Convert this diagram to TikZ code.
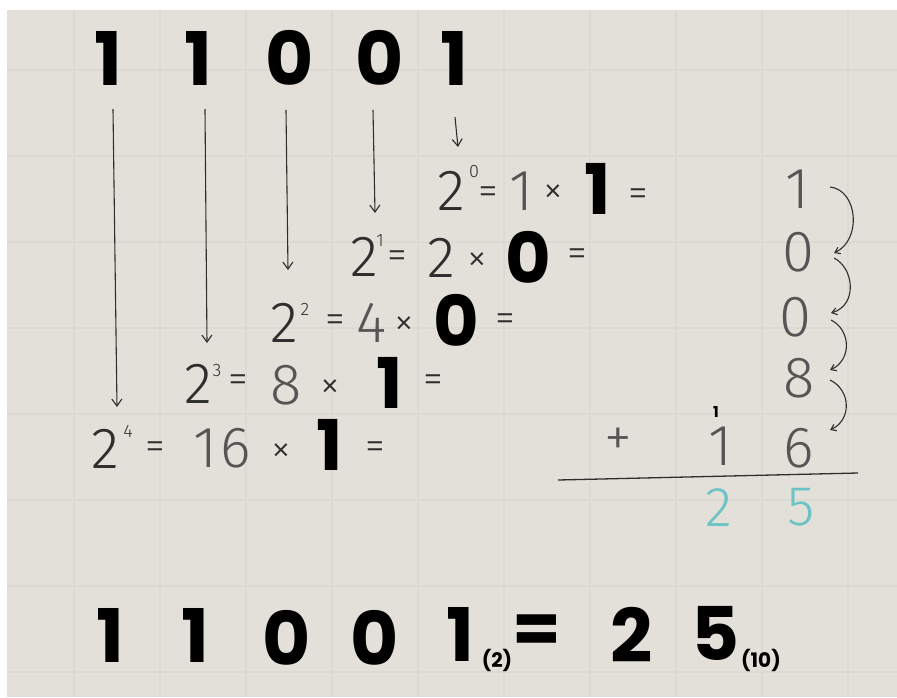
\documentclass[tikz,border=0pt]{standalone}
\usepackage{fontspec}
\usetikzlibrary{arrows.meta}
\newfontfamily\thinf{Fira Sans Light}
\newfontfamily\boldf{Poppins}
\definecolor{bg}{HTML}{E3E0D9}
\definecolor{gridc}{HTML}{DCD9D2}
\definecolor{ink}{HTML}{2E2E2E}
\definecolor{pencil}{HTML}{555555}
\definecolor{tealc}{HTML}{6CC3C6}
\tikzset{
  big/.style={font=\boldf\bfseries\fontsize{74}{74}\selectfont, inner sep=0pt, text=black},
  mid/.style={font=\boldf\bfseries\fontsize{70}{70}\selectfont, inner sep=0pt, text=black},
  bigeq/.style={font=\boldf\bfseries\fontsize{70}{70}\selectfont, inner sep=0pt, text=black},
  subs/.style={font=\boldf\bfseries\fontsize{20}{20}\selectfont, inner sep=0pt, text=black},
  thin/.style={font=\thinf\fontsize{58}{58}\selectfont, inner sep=0pt, text=ink},
  thingrey/.style={font=\thinf\fontsize{58}{58}\selectfont, inner sep=0pt, text=pencil},
  sym/.style={font=\thinf\fontsize{40}{40}\selectfont, inner sep=0pt, text=ink},
  supr/.style={font=\thinf\fontsize{18}{18}\selectfont, inner sep=0pt, text=ink},
  res/.style={font=\thinf\fontsize{58}{58}\selectfont, inner sep=0pt, text=pencil},
  tl/.style={font=\thinf\fontsize{56}{56}\selectfont, inner sep=0pt, text=tealc},
  arr/.style={draw=ink, line width=1.1pt, -{Straight Barb[length=7pt,width=10pt]}},
  carr/.style={draw=ink, line width=1.1pt, -{Straight Barb[length=5pt,width=7pt]}},
}
\begin{document}
\begin{tikzpicture}[x=1pt,y=-1pt]
\useasboundingbox (0,0) rectangle (897,697);
\fill[white] (0,0) rectangle (897,697);
\fill[bg] (7,10) rectangle (897,697);
\foreach \gx in {74,160,246,332,418,504,590,676,762,848}
  \draw[gridc, line width=1.2pt] (\gx,10) -- (\gx,697);
\foreach \gy in {70,156,242,328,414,500,586,672}
  \draw[gridc, line width=1.2pt] (7,\gy) -- (897,\gy);

% top binary number
\node[big] (d1) at (108,58) {1};
\node[big] (d2) at (198,58) {1};
\node[big] (d3) at (290,58) {0};
\node[big] (d4) at (380,58) {0};
\node[big] (d5) at (454,58) {1};

% row 0
\node[thin] (two0) at (451,191) {2};
\node[supr] (sup0) at (474,172) {0};
\node[sym] (eqa0) at (488,196) {=};
\node[thingrey] (m0) at (521,191) {1};
\node[sym] (x0) at (553,194) {×};
\node[mid] (b0) at (598,189) {1};
\node[sym] (eqb0) at (638,198) {=};
% row 1
\node[thin] (two1) at (364,257) {2};
\node[supr] (sup1) at (380,241) {1};
\node[sym] (eqa1) at (397,260) {=};
\node[thin] (m1) at (441,258) {2};
\node[sym] (x1) at (477,262) {×};
\node[mid] (b1) at (528,257) {0};
\node[sym] (eqb1) at (577,258) {=};
% row 2
\node[thin] (two2) at (284,323) {2};
\node[supr] (sup2) at (305,309) {2};
\node[sym] (eqa2) at (335,324) {=};
\node[thingrey] (m2) at (372,323) {4};
\node[sym] (x2) at (404,326) {×};
\node[mid] (b2) at (456,320) {0};
\node[sym] (eqb2) at (505,323) {=};
% row 3
\node[thin] (two3) at (198,384) {2};
\node[supr] (sup3) at (217,371) {3};
\node[sym] (eqa3) at (238,384) {=};
\node[thingrey] (m3) at (286,385) {8};
\node[sym] (x3) at (330,389) {×};
\node[mid] (b3) at (390,383) {1};
\node[sym] (eqb3) at (433,384) {=};
% row 4
\node[thin] (two4) at (105,449) {2};
\node[supr] (sup4) at (128,431) {4};
\node[sym] (eqa4) at (155,451) {=};
\node[thingrey] (m4) at (222,448) {1\kern3pt 6};
\node[sym] (x4) at (281,453) {×};
\node[mid] (b4) at (330,445) {1};
\node[sym] (eqb4) at (375,451) {=};

% vertical arrows
\coordinate (t1) at (117,407);
\coordinate (t2) at (207,343);
\coordinate (t3) at (288,270);
\coordinate (t4) at (375,213);
\coordinate (t5) at (458,147);
\draw[arr] ([xshift=5pt,yshift=-24pt]d1.south) -- (t1);
\draw[arr] ([xshift=7pt,yshift=-24pt]d2.south) -- (t2);
\draw[arr] ([xshift=-4pt,yshift=-24pt]d3.south) -- (t3);
\draw[arr] ([xshift=-7pt,yshift=-24pt]d4.south) -- (t4);
\draw[arr] ([xshift=1pt,yshift=-32pt]d5.south) -- (t5);

% right column
\node[res] (r0) at (797,189) {1};
\node[res] (r1) at (798,252) {0};
\node[res] (r2) at (795,317) {0};
\node[res] (r3) at (799,378) {8};
\node[res] (r4) at (799,448) {6};
\node[sym, text=pencil, font=\thinf\fontsize{56}{56}\selectfont] (plus) at (618,442) {+};
\node[res] (c1) at (720,446) {1};
\node[inner sep=0pt, font=\boldf\bfseries\fontsize{15}{15}\selectfont] (carry) at (716,412) {1};
\coordinate (la) at (558,480);
\coordinate (lb) at (858,473);
\draw[ink, line width=1.3pt] (la) -- (lb);
\node[tl] (s2) at (719,508) {2};
\node[tl] (s5) at (801,507) {5};

% chaining arrows
\draw[carr] (830,187) .. controls (858,190) and (862,240) .. (834,253);
\draw[carr] (834,258) .. controls (854,268) and (858,305) .. (831,313);
\draw[carr] (831,320) .. controls (851,330) and (852,360) .. (830,370);
\draw[carr] (830,380) .. controls (851,390) and (852,420) .. (830,430);

% bottom result
\node[big] (e1) at (110,635) {1};
\node[big] (e2) at (195,635) {1};
\node[big] (e3) at (287,638) {0};
\node[big] (e4) at (375,638) {0};
\node[big] (e5) at (460,634) {1};
\node[subs] (b2sub) at (497,660) {(2)};
\node[bigeq] (beq) at (537,634) {=};
\node[big] (f2) at (632,635) {2};
\node[big] (f5) at (716,633) {5};
\node[subs] (b10sub) at (761,660) {(10)};
\end{tikzpicture}
\end{document}
